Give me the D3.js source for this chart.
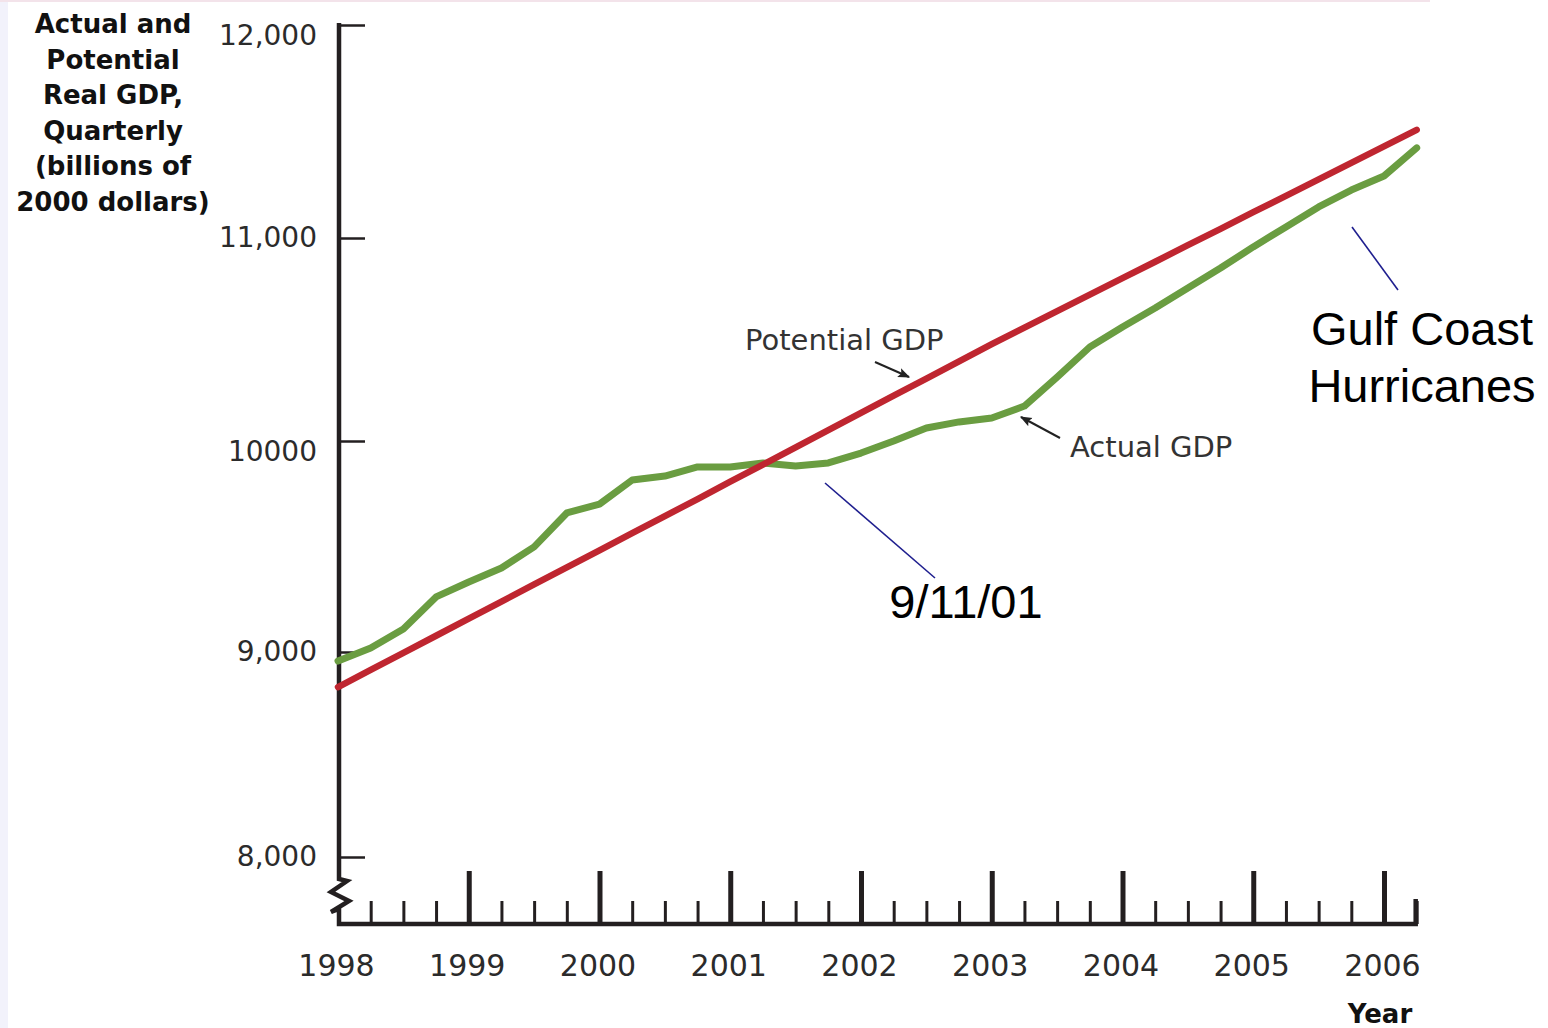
<!DOCTYPE html>
<html>
<head>
<meta charset="utf-8">
<script src="https://cdn.jsdelivr.net/npm/d3@7"></script>
<style>
    body { margin: 0; background: #fff; }
    svg { display: block; }
    .axis .tick text { font-family: "DejaVu Sans", sans-serif; fill: #2b2b2b; }
</style>
</head>
<body>
<svg id="chart" width="1548" height="1028"></svg>
<script>
// quarterly observations, 1998Q1 .. 2006Q2
const quarters = [
    "1998Q1", "1998Q2", "1998Q3", "1998Q4", "1999Q1", "1999Q2", "1999Q3", "1999Q4",
    "2000Q1", "2000Q2", "2000Q3", "2000Q4", "2001Q1", "2001Q2", "2001Q3", "2001Q4",
    "2002Q1", "2002Q2", "2002Q3", "2002Q4", "2003Q1", "2003Q2", "2003Q3", "2003Q4",
    "2004Q1", "2004Q2", "2004Q3", "2004Q4", "2005Q1", "2005Q2", "2005Q3", "2005Q4",
    "2006Q1", "2006Q2"
]

// billions of 2000 dollars
const potentialGDP = [
    8829, 8913, 8996, 9077, 9158, 9239, 9320, 9401,
    9482, 9563, 9644, 9725, 9807, 9888, 9970, 10053,
    10138, 10223, 10307, 10392, 10477, 10559, 10640, 10721,
    10802, 10883, 10965, 11043, 11121, 11198, 11275, 11353,
    11430, 11508
]

const actualGDP = [
    8956, 9019, 9109, 9261, 9332, 9398, 9498, 9659,
    9701, 9815, 9834, 9877, 9877, 9896, 9882, 9896,
    9943, 10000, 10064, 10094, 10113, 10172, 10315, 10463,
    10562, 10655, 10754, 10852, 10956, 11052, 11146, 11225,
    11291, 11423
]

const yTickValues = [8000, 9000, 10000, 11000, 12000]
const yTickLabels = ["8,000", "9,000", "10000", "11,000", "12,000"]
const yearTicks = [1998, 1999, 2000, 2001, 2002, 2003, 2004, 2005, 2006]
const yTitleLines = ["Actual and", "Potential", "Real GDP,", "Quarterly", "(billions of", "2000 dollars)"]

const parseQuarter = s => +s.slice(0, 4) + (+s.slice(5) - 1) / 4

const svg = d3.select("#chart")
const ink = "#231f20"

// faint frame of the original slide
svg.append("rect").attr("x", 0).attr("y", 0).attr("width", 8).attr("height", 1028).attr("fill", "#f2f2fb")
svg.append("rect").attr("x", 0).attr("y", 0).attr("width", 1430).attr("height", 2).attr("fill", "#f3e3ea")

const x = d3.scaleLinear().domain([1998, 2006]).range([338, 1384])
const y = d3.scaleLinear().domain(yTickValues).range([857, 652, 441, 238, 25])

const series = [
    {name: "actual", color: "#6a9d41", width: 7, values: actualGDP},
    {name: "potential", color: "#bf2630", width: 6.5, values: potentialGDP},
]

// y axis, ticks pointing inward
const axisY = d3.axisLeft(y)
    .tickValues(yTickValues)
    .tickFormat((d, i) => yTickLabels[i])
    .tickSizeInner(-26)
    .tickSizeOuter(0)
    .tickPadding(22)

const gy = svg.append("g")
    .attr("class", "axis axis--y")
    .attr("transform", "translate(339,0)")
    .call(axisY)
gy.select(".domain").remove()
gy.selectAll(".tick line").attr("stroke", ink).attr("stroke-width", 2.5)
gy.selectAll(".tick text")
    .style("font-size", "28px")
    .attr("dy", d => (d === 12000 || d === 10000) ? "0.68em" : "0.32em")

// x axis: quarter ticks and taller year ticks
const quarterTicks = quarters.map(parseQuarter).filter(d => d % 1 !== 0)

const gq = svg.append("g")
    .attr("class", "axis axis--q")
    .attr("transform", "translate(0,924)")
    .call(d3.axisBottom(x).tickValues(quarterTicks).tickSizeInner(-23).tickSizeOuter(0).tickFormat(""))
gq.select(".domain").remove()
gq.selectAll(".tick line").attr("stroke", ink).attr("stroke-width", 3)

const gx = svg.append("g")
    .attr("class", "axis axis--x")
    .attr("transform", "translate(0,924)")
    .call(d3.axisBottom(x).tickValues(yearTicks).tickSizeInner(-53).tickSizeOuter(0).tickPadding(31).tickFormat(d3.format("d")))
gx.select(".domain").remove()
gx.selectAll(".tick line").attr("stroke", ink).attr("stroke-width", 5)
gx.selectAll(".tick line").filter(d => d === 1998).remove()
gx.selectAll(".tick text").style("font-size", "30px").attr("dx", -2)

// axis lines with the break on the value axis
const xEnd = x(parseQuarter(quarters[quarters.length - 1]))
svg.append("path")
    .attr("d", "M339,23 L339,879 L347,881 L331,892 L349,901 L331,912 L339,909 L339,924 L" + (xEnd - 1) + ",924 L" + (xEnd - 1) + ",899")
    .attr("fill", "none")
    .attr("stroke", ink)
    .attr("stroke-width", 4.5)
    .attr("stroke-linejoin", "miter")

// data lines
const line = d3.line()
    .x((d, i) => x(parseQuarter(quarters[i])))
    .y(d => y(d))

svg.selectAll(".series")
    .data(series)
    .enter().append("path")
    .attr("class", "series")
    .attr("d", d => line(d.values))
    .attr("fill", "none")
    .attr("stroke", d => d.color)
    .attr("stroke-width", d => d.width)
    .attr("stroke-linecap", "round")
    .attr("stroke-linejoin", "round")

// axis titles
svg.append("text")
    .attr("x", 113)
    .attr("y", 33)
    .attr("text-anchor", "middle")
    .style("font-family", "'DejaVu Sans', sans-serif")
    .style("font-weight", "bold")
    .style("font-size", "26px")
    .attr("fill", "#111")
    .selectAll("tspan")
    .data(yTitleLines)
    .enter().append("tspan")
    .attr("x", 113)
    .attr("dy", (d, i) => i ? 35.5 : 0)
    .text(d => d)

svg.append("text")
    .attr("x", 1380)
    .attr("y", 1023)
    .attr("text-anchor", "middle")
    .style("font-family", "'DejaVu Sans', sans-serif")
    .style("font-weight", "bold")
    .style("font-size", "26px")
    .attr("fill", "#111")
    .text("Year")

// annotations
svg.append("defs").append("marker")
    .attr("id", "arrow")
    .attr("viewBox", "0 0 10 10")
    .attr("refX", 9)
    .attr("refY", 5)
    .attr("markerWidth", 6)
    .attr("markerHeight", 6)
    .attr("orient", "auto")
    .append("path")
    .attr("d", "M0,1 L10,5 L0,9 L2,5 z")
    .attr("fill", "#222")

const label = (tx, ty, txt) => svg.append("text")
    .attr("x", tx)
    .attr("y", ty)
    .style("font-family", "'DejaVu Sans', sans-serif")
    .style("font-size", "29px")
    .attr("fill", "#333")
    .text(txt)

label(745, 350, "Potential GDP")
label(1070, 457, "Actual GDP")

const arrow = (x1, y1, x2, y2) => svg.append("line")
    .attr("x1", x1).attr("y1", y1).attr("x2", x2).attr("y2", y2)
    .attr("stroke", "#222")
    .attr("stroke-width", 2)
    .attr("marker-end", "url(#arrow)")

arrow(875, 362, 909, 377)
arrow(1060, 438, 1021, 417)

const pointer = (x1, y1, x2, y2) => svg.append("line")
    .attr("x1", x1).attr("y1", y1).attr("x2", x2).attr("y2", y2)
    .attr("stroke", "#1f1f8f")
    .attr("stroke-width", 1.6)

pointer(825, 483, 935, 578)
pointer(1352, 227, 1398, 290)

const note = (tx, ty, txt) => svg.append("text")
    .attr("x", tx)
    .attr("y", ty)
    .attr("text-anchor", "middle")
    .style("font-family", "'Liberation Sans', Arial, sans-serif")
    .style("font-size", "47px")
    .attr("fill", "#000")
    .text(txt)

note(966, 618, "9/11/01")
note(1422, 345, "Gulf Coast")
note(1422, 402, "Hurricanes")
</script>
</body>
</html>
